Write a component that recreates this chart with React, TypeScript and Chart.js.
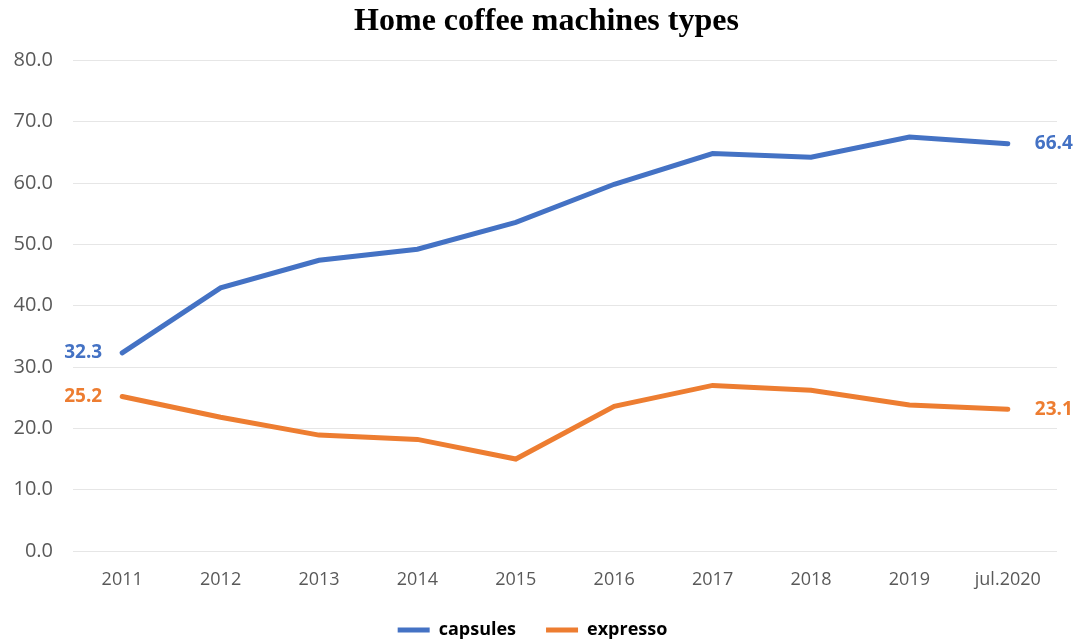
import React, { useEffect, useRef } from "react";
import { Chart, registerables } from "chart.js";

Chart.register(...registerables);

const categories = ["2011", "2012", "2013", "2014", "2015", "2016", "2017", "2018", "2019", "jul.2020"];
const capsules = [32.3, 42.9, 47.4, 49.2, 53.6, 59.8, 64.8, 64.2, 67.5, 66.4];
const expresso = [25.2, 21.8, 18.9, 18.2, 15.0, 23.6, 27.0, 26.2, 23.8, 23.1];
const seriesNames = ["capsules", "expresso"];
const seriesColors = ["#4472C4", "#ED7D31"];
const titleText = "Home coffee machines types";

const endLabels = {
  id: "endLabels",
  afterLayout(chart: any) {
    if (chart.titleBlock) chart.titleBlock.left += 28;
  },
  afterDatasetsDraw(chart: any) {
    const ctx = chart.ctx;
    ctx.save();
    ctx.font = "bold 19px 'Open Sans', sans-serif";
    ctx.textBaseline = "middle";
    chart.data.datasets.forEach((ds: any, i: number) => {
      const meta = chart.getDatasetMeta(i);
      const pts = meta.data;
      const first = pts[0];
      const last = pts[pts.length - 1];
      ctx.fillStyle = ds.borderColor;
      ctx.textAlign = "right";
      ctx.fillText(Number(ds.data[0]).toFixed(1), first.x - 20, first.y);
      ctx.textAlign = "left";
      ctx.fillText(Number(ds.data[ds.data.length - 1]).toFixed(1), last.x + 27, last.y);
    });
    ctx.restore();
  },
};

export default function App() {
  const ref = useRef<HTMLCanvasElement>(null);
  useEffect(() => {
    if (!ref.current) return;
    const chart = new Chart(ref.current, {
      type: "line",
      data: {
        labels: categories,
        datasets: [
          { label: seriesNames[0], data: capsules, borderColor: seriesColors[0], backgroundColor: seriesColors[0], borderWidth: 5, pointRadius: 0, tension: 0, borderCapStyle: "round" },
          { label: seriesNames[1], data: expresso, borderColor: seriesColors[1], backgroundColor: seriesColors[1], borderWidth: 5, pointRadius: 0, tension: 0, borderCapStyle: "round" },
        ],
      },
      options: {
        animation: false,
        responsive: false,
        layout: { padding: { left: 8, right: 23, top: 0, bottom: -6 } },
        plugins: {
          title: {
            display: true,
            text: titleText,
            font: { family: "'Liberation Serif', 'Times New Roman', serif", size: 32, weight: "bold" },
            color: "#000000",
            padding: { top: 3, bottom: 19 },
          },
          legend: {
            position: "bottom",
            labels: {
              boxWidth: 32,
              boxHeight: 5,
              color: "#000000",
              font: { family: "'Open Sans', sans-serif", size: 18, weight: "bold" },
              padding: 30,
              generateLabels(chart: any) {
                const items = Chart.defaults.plugins.legend.labels.generateLabels(chart);
                return items.map((it: any) => ({ ...it, lineWidth: 0 }));
              },
            },
          },
          tooltip: { enabled: false },
        },
        scales: {
          x: {
            offset: true,
            grid: { display: false, drawTicks: false },
            border: { display: false },
            ticks: { color: "#595959", font: { family: "'Open Sans', sans-serif", size: 18 }, padding: 18, maxRotation: 0 },
            afterFit(scale: any) { scale.height = 40; },
          },
          y: {
            min: 0,
            max: 80,
            grid: { color: "#E6E6E6", drawTicks: false },
            border: { display: false },
            ticks: {
              stepSize: 10,
              color: "#595959",
              font: { family: "'Open Sans', sans-serif", size: 20 },
              padding: 20,
              callback: (v: any) => Number(v).toFixed(1),
            },
            afterFit(scale: any) { scale.width = 65; },
          },
        },
      },
      plugins: [endLabels],
    } as any);
    return () => chart.destroy();
  }, []);
  return (
    <div style={{ position: "fixed", left: 0, top: 0, width: 1080, height: 643, background: "#fff" }}>
      <canvas ref={ref} width={1080} height={643} />
    </div>
  );
}
